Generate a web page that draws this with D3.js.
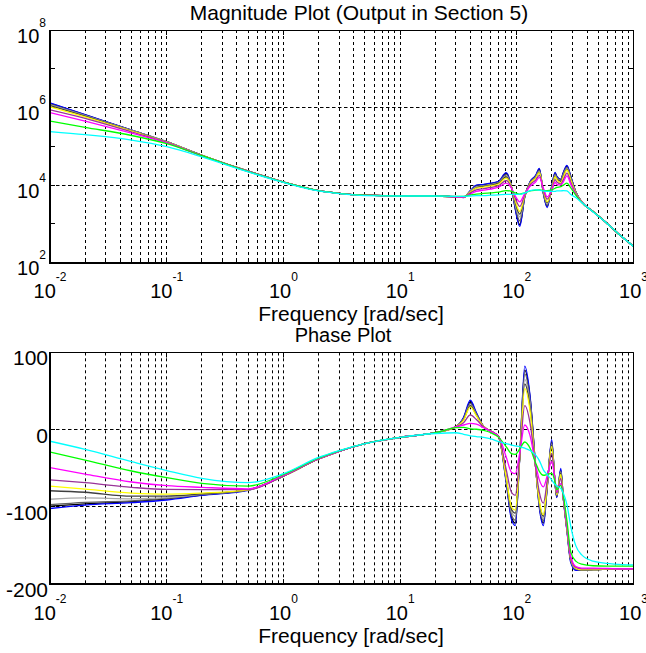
<!DOCTYPE html>
<html>
<head>
<meta charset="utf-8">
<script src="https://cdn.jsdelivr.net/npm/d3@7"></script>
<style>
  body { margin: 0; background: #ffffff; }
  svg { display: block; }
  text { font-family: 'Liberation Sans', Arial, Helvetica, sans-serif; fill: #000000; }
</style>
</head>
<body>
<svg id="chart" width="646" height="653"></svg>
<script>
// frequency points shared by every curve [rad/sec]
const freq = [0.01, 0.02, 0.05, 0.1, 0.2, 0.5, 1, 2, 3, 5, 10, 20, 30, 35, 40, 45, 52, 60, 70, 81,
  90, 97, 106, 117, 130, 145, 156, 169, 182, 199, 213, 220, 238, 250, 269, 290, 320, 360, 450, 600, 800, 1000]

// magnitude, stored as log10 of the value
const magBlack = [6.11, 5.81, 5.42, 5.12, 4.77, 4.36, 4.08, 3.86, 3.79, 3.74, 3.72, 3.72, 3.70, 3.69, 3.85, 3.99, 4.01, 4.04, 4.09, 4.30,
  3.95, 3.40, 2.98, 3.70, 4.08, 4.24, 4.41, 3.79, 3.45, 3.96, 4.31, 4.22, 4.14, 4.31, 4.49, 4.22, 3.83, 3.57, 3.32, 3.00, 2.66, 2.42]
const magBlue = [6.12, 5.82, 5.42, 5.12, 4.77, 4.36, 4.08, 3.86, 3.79, 3.74, 3.72, 3.72, 3.70, 3.68, 3.86, 4.00, 4.02, 4.05, 4.10, 4.32,
  3.96, 3.38, 2.94, 3.70, 4.09, 4.25, 4.43, 3.78, 3.42, 3.97, 4.33, 4.23, 4.15, 4.32, 4.51, 4.23, 3.83, 3.57, 3.32, 3.00, 2.66, 2.42]
const magDim = [6.09, 5.80, 5.41, 5.12, 4.77, 4.36, 4.08, 3.86, 3.79, 3.74, 3.72, 3.72, 3.70, 3.69, 3.84, 3.97, 3.99, 4.02, 4.07, 4.27,
  3.95, 3.45, 3.08, 3.71, 4.07, 4.22, 4.38, 3.81, 3.48, 3.93, 4.28, 4.20, 4.13, 4.28, 4.46, 4.20, 3.82, 3.57, 3.32, 3.00, 2.66, 2.42]
const magGray = [6.07, 5.79, 5.41, 5.12, 4.77, 4.36, 4.08, 3.86, 3.79, 3.74, 3.72, 3.72, 3.70, 3.69, 3.84, 3.95, 3.98, 4.01, 4.06, 4.24,
  3.95, 3.50, 3.18, 3.71, 4.06, 4.20, 4.35, 3.83, 3.52, 3.89, 4.25, 4.18, 4.11, 4.25, 4.43, 4.17, 3.81, 3.57, 3.32, 3.00, 2.66, 2.42]
const magDark = [6.05, 5.78, 5.40, 5.11, 4.77, 4.36, 4.08, 3.86, 3.79, 3.74, 3.72, 3.72, 3.70, 3.69, 3.83, 3.93, 3.97, 4.00, 4.05, 4.21,
  3.95, 3.55, 3.25, 3.72, 4.05, 4.19, 4.33, 3.85, 3.55, 3.87, 4.23, 4.16, 4.10, 4.23, 4.41, 4.16, 3.80, 3.57, 3.32, 3.00, 2.66, 2.42]
const magYellow = [6.02, 5.76, 5.39, 5.11, 4.77, 4.36, 4.08, 3.86, 3.79, 3.74, 3.72, 3.72, 3.70, 3.69, 3.82, 3.92, 3.95, 3.98, 4.03, 4.18,
  3.95, 3.60, 3.32, 3.73, 4.04, 4.18, 4.32, 3.87, 3.57, 3.86, 4.22, 4.14, 4.06, 4.20, 4.39, 4.14, 3.80, 3.57, 3.32, 3.00, 2.66, 2.42]
const magPurple = [5.94, 5.72, 5.37, 5.10, 4.76, 4.36, 4.08, 3.86, 3.79, 3.74, 3.72, 3.72, 3.70, 3.69, 3.80, 3.88, 3.91, 3.94, 3.99, 4.12,
  3.94, 3.66, 3.45, 3.75, 4.01, 4.13, 4.25, 3.89, 3.64, 3.85, 4.14, 4.08, 4.03, 4.13, 4.31, 4.07, 3.78, 3.56, 3.32, 3.00, 2.66, 2.42]
const magMagenta = [5.87, 5.65, 5.34, 5.09, 4.76, 4.35, 4.08, 3.86, 3.79, 3.74, 3.72, 3.72, 3.70, 3.70, 3.77, 3.84, 3.87, 3.90, 3.95, 4.05,
  3.92, 3.72, 3.57, 3.78, 3.97, 4.08, 4.20, 3.92, 3.70, 3.86, 4.07, 4.02, 4.00, 4.08, 4.24, 4.02, 3.76, 3.56, 3.32, 3.00, 2.66, 2.42]
const magGreen = [5.65, 5.49, 5.28, 5.07, 4.76, 4.35, 4.08, 3.86, 3.79, 3.74, 3.72, 3.72, 3.71, 3.71, 3.74, 3.77, 3.79, 3.80, 3.82, 3.86,
  3.84, 3.80, 3.77, 3.80, 3.85, 3.87, 3.88, 3.86, 3.86, 3.88, 3.92, 3.94, 3.96, 4.00, 4.05, 3.93, 3.74, 3.55, 3.32, 3.00, 2.66, 2.42]
const magCyan = [5.38, 5.30, 5.16, 4.99, 4.73, 4.34, 4.07, 3.85, 3.78, 3.73, 3.72, 3.72, 3.71, 3.71, 3.72, 3.73, 3.73, 3.74, 3.75, 3.76,
  3.76, 3.76, 3.76, 3.80, 3.86, 3.88, 3.87, 3.85, 3.84, 3.84, 3.84, 3.85, 3.85, 3.86, 3.85, 3.76, 3.68, 3.55, 3.31, 3.00, 2.66, 2.42]

// phase [deg]
const phaseBlack = [-99, -96, -93, -89.5, -84.5, -78, -60, -38, -28, -18, -10, -4, 3.8, 15, 36, 21, 4, -2, -9, -66,
  -113, -121, -35, 77, 41, -48, -99, -121, -75, -15.6, -70, -87, -52, -87, -130, -170, -181, -182, -181, -180.5, -180, -180]
const phaseBlue = [-102, -97.5, -94.5, -91, -85, -78.5, -60, -38, -28, -18, -10, -4, 3.8, 16, 38, 22, 4, -2, -9, -68,
  -116, -124, -36, 82, 43, -48, -101, -124, -76, -13, -71, -88, -50, -88, -131, -172, -182, -182, -181, -180.5, -180, -180]
const phaseDim = [-97, -94, -92, -89, -84, -78, -60, -38, -28, -18, -10, -4, 3.8, 14, 34, 20, 4, -2, -9, -64,
  -110, -117, -35, 72, 37, -48, -97, -118, -74, -17, -70, -86, -54, -87, -129, -169, -180, -182, -181, -180.5, -180, -180]
const phaseGray = [-90, -88.3, -89.5, -88, -83.5, -78, -60, -38, -28, -18, -10, -4, 3.8, 13.5, 32, 19.5, 4, -2, -9, -63,
  -106, -112, -35, 65, 32, -49, -96, -115, -73, -19, -69, -85, -55, -87, -129, -168, -180, -181, -181, -180.5, -180, -180]
const phaseDark = [-79, -81, -86, -86, -83, -78, -60, -38, -28, -18, -10, -4, 3.8, 13, 31, 19, 4, -2, -9, -62,
  -103, -108, -36, 59, 28, -49, -94, -112, -72, -20, -69, -85, -56, -88, -128, -168, -179, -181, -181, -180.5, -180, -180]
const phaseYellow = [-73, -77, -82, -83.5, -82, -78, -60, -38, -28, -18, -10, -4, 3.6, 12, 29.5, 18, 4, -2, -9, -61,
  -100, -104, -36, 53, 23.6, -50, -92, -110, -71.5, -22, -68, -84, -58, -88, -128, -167, -179, -181, -181, -180.5, -180, -180]
const phasePurple = [-65, -68.6, -74.6, -77.3, -77.5, -77.5, -60, -38, -28, -18, -10, -4, 3.5, 9, 19, 13, 3.5, -2, -9, -51,
  -81, -85, -35, 31, 8, -49, -81, -95, -67, -30.6, -67, -82, -63, -88, -126, -166, -178, -180, -180, -180, -180, -180]
const phaseMagenta = [-49, -57.4, -67.7, -72.5, -74.6, -76.5, -59, -37.5, -28, -18, -10, -4, 3.5, 6, 8, 7, 2.5, -2.5, -9, -35,
  -55, -57, -30, 6, -8, -45, -65, -74, -60, -41.5, -66, -80, -70, -87, -124, -164, -177, -179, -179, -179.5, -180, -180]
const phaseGreen = [-29, -39.3, -53.5, -62, -69.4, -73, -58, -37, -27.5, -18, -10, -4, 2.5, 3, 1, 0.5, -1, -4, -10, -22,
  -31, -32, -25, -16, -24, -43, -54, -59, -58, -56.5, -68, -78, -72, -85, -118, -158, -170, -174, -176, -176.5, -176.5, -176.5]
const phaseCyan = [-15, -25.5, -41.5, -53, -63, -68.6, -57, -36, -27, -18, -10, -5, -4, -6, -8, -9, -10, -12, -15.6, -18,
  -20, -21, -22, -24, -27, -33, -40, -52, -58, -65, -71, -73, -76, -82, -97, -125, -150, -162, -170, -173, -174.5, -175]

// tick labels
const xTickExps = [-2, -1, 0, 1, 2, 3]
const magTickExps = [2, 4, 6, 8]
const magMinorExps = [3, 5, 7]
const phaseTicks = [-200, -100, 0, 100]

// curves in drawing order
const curves = [
  { color: '#000000', mag: magBlack, phase: phaseBlack },
  { color: '#0000ff', mag: magBlue, phase: phaseBlue },
  { color: '#606060', mag: magDim, phase: phaseDim },
  { color: '#a8a8a8', mag: magGray, phase: phaseGray },
  { color: '#404040', mag: magDark, phase: phaseDark },
  { color: '#ffff00', mag: magYellow, phase: phaseYellow },
  { color: '#993399', mag: magPurple, phase: phasePurple },
  { color: '#ff00ff', mag: magMagenta, phase: phaseMagenta },
  { color: '#00ff00', mag: magGreen, phase: phaseGreen },
  { color: '#00ffff', mag: magCyan, phase: phaseCyan }
]

var svg = d3.select('#chart')
var left = 50
var right = 633.5

var x = d3.scaleLog().domain([0.01, 1000]).range([left, right])
var yMag = d3.scaleLog().domain([1e2, 1e8]).range([262.7, 30])
var yPhase = d3.scaleLinear().domain([-200, 100]).range([584.3, 352.3])

// put a 1px line on a pixel centre so the dashes stay black
function crisp (v) {
  return Math.round(v - 0.5) + 0.5
}

/**
 * Draws the dashed grid and the ticks of one panel
 *
 * @param {*} g the d3 group of the panel
 * @param {*} y the y scale
 * @param {number[]} gridValues the y values that get a grid line
 * @param {number[]} minorValues the y values that only get a small tick
 * @param {string} id the clip id
 */
function drawFrame (g, y, gridValues, minorValues, id) {
  var top = y.range()[1]
  var bottom = y.range()[0]

  g.append('clipPath')
    .attr('id', id)
    .append('rect')
    .attr('x', left)
    .attr('y', top)
    .attr('width', right - left)
    .attr('height', bottom - top)

  var xGrid = x.ticks().filter(function (d) { return d > 0.0101 && d < 999 })
  g.selectAll('.vgrid')
    .data(xGrid).enter()
    .append('line')
    .attr('x1', function (d) { return crisp(x(d)) })
    .attr('x2', function (d) { return crisp(x(d)) })
    .attr('y1', top)
    .attr('y2', bottom)
    .attr('stroke', '#000000')
    .attr('stroke-width', 1)
    .attr('stroke-dasharray', '3,3')

  g.selectAll('.hgrid')
    .data(gridValues).enter()
    .append('line')
    .attr('x1', left)
    .attr('x2', right)
    .attr('y1', function (d) { return crisp(y(d)) })
    .attr('y2', function (d) { return crisp(y(d)) })
    .attr('stroke', '#000000')
    .attr('stroke-width', 1)
    .attr('stroke-dasharray', '3.5,2.5')

  // x ticks at bottom and top
  var xMajor = xTickExps.map(function (e) { return Math.pow(10, e) })
  xGrid.concat(xMajor).forEach(function (d) {
    var len = xMajor.indexOf(d) >= 0 ? 5 : 3
    var px = crisp(x(d))
    g.append('line').attr('x1', px).attr('x2', px).attr('y1', bottom).attr('y2', bottom - len)
      .attr('stroke', '#000000')
    g.append('line').attr('x1', px).attr('x2', px).attr('y1', top).attr('y2', top + len)
      .attr('stroke', '#000000')
  })

  // y ticks on both sides
  gridValues.concat(minorValues).forEach(function (d) {
    var py = crisp(y(d))
    g.append('line').attr('x1', left).attr('x2', left + 5).attr('y1', py).attr('y2', py)
      .attr('stroke', '#000000')
    g.append('line').attr('x1', right).attr('x2', right - 5).attr('y1', py).attr('y2', py)
      .attr('stroke', '#000000')
  })
}

/**
 * Draws the box lines on top of the curves
 *
 * @param {*} g the d3 group of the panel
 * @param {*} y the y scale
 */
function drawBox (g, y) {
  var top = crisp(y.range()[1])
  var bottom = Math.round(y.range()[0])
  g.append('line').attr('x1', left).attr('x2', right).attr('y1', top).attr('y2', top)
    .attr('stroke', '#000000').attr('stroke-width', 1)
  g.append('line').attr('x1', right).attr('x2', right).attr('y1', top).attr('y2', bottom)
    .attr('stroke', '#000000').attr('stroke-width', 1)
  g.append('line').attr('x1', left).attr('x2', right + 0.5).attr('y1', bottom).attr('y2', bottom)
    .attr('stroke', '#000000').attr('stroke-width', 2)
  g.append('line').attr('x1', left).attr('x2', left).attr('y1', top - 0.5).attr('y2', bottom + 1)
    .attr('stroke', '#000000').attr('stroke-width', 2)
}

/**
 * Draws the curves of one panel
 *
 * @param {*} g the d3 group of the panel
 * @param {*} y the y scale
 * @param {Function} value returns the y value of a curve at index i
 * @param {string} id the clip id
 */
function drawCurves (g, y, value, id) {
  var line = d3.line()
    .x(function (d) { return x(d[0]) })
    .y(function (d) { return y(d[1]) })
    .curve(d3.curveMonotoneX)

  curves.forEach(function (c) {
    var points = freq.map(function (f, i) { return [f, value(c, i)] })
    g.append('path')
      .datum(points)
      .attr('d', line)
      .attr('fill', 'none')
      .attr('stroke', c.color)
      .attr('stroke-width', 1.3)
      .attr('clip-path', 'url(#' + id + ')')
  })
}

/**
 * Writes the x tick labels and the x axis label
 *
 * @param {*} g the d3 group of the panel
 * @param {number} bottom the pixel of the bottom axis
 */
function drawXLabels (g, bottom) {
  xTickExps.forEach(function (e) {
    var t = g.append('text')
      .attr('x', x(Math.pow(10, e)))
      .attr('y', bottom + 35.5)
      .attr('text-anchor', 'middle')
      .attr('font-size', 20)
    t.append('tspan').text('10')
    t.append('tspan').attr('dy', -17).attr('font-size', 12).text(e)
  })
  g.append('text')
    .attr('x', 351)
    .attr('y', bottom + 58.5)
    .attr('text-anchor', 'middle')
    .attr('font-size', 21)
    .text('Frequency [rad/sec]')
}

var magPanel = svg.append('g')
drawFrame(magPanel, yMag, [1e4, 1e6], magMinorExps.map(function (e) { return Math.pow(10, e) }), 'clipMag')
drawCurves(magPanel, yMag, function (c, i) { return Math.pow(10, c.mag[i]) }, 'clipMag')
drawBox(magPanel, yMag)

magTickExps.forEach(function (e) {
  var t = magPanel.append('text')
    .attr('x', 46)
    .attr('y', yMag(Math.pow(10, e)) + 12.5)
    .attr('text-anchor', 'end')
    .attr('font-size', 20)
  t.append('tspan').text('10')
  t.append('tspan').attr('dy', -16).attr('font-size', 12).text(e)
})
drawXLabels(magPanel, 262.7)
magPanel.append('text')
  .attr('x', 359)
  .attr('y', 20)
  .attr('text-anchor', 'middle')
  .attr('font-size', 21)
  .text('Magnitude Plot (Output in Section 5)')

var phasePanel = svg.append('g')
drawFrame(phasePanel, yPhase, [-100, 0], [], 'clipPhase')
drawCurves(phasePanel, yPhase, function (c, i) { return c.phase[i] }, 'clipPhase')
drawBox(phasePanel, yPhase)

phaseTicks.forEach(function (v) {
  phasePanel.append('text')
    .attr('x', 48)
    .attr('y', yPhase(v) + 13)
    .attr('text-anchor', 'end')
    .attr('font-size', 21)
    .text(v)
})
drawXLabels(phasePanel, 584.3)
phasePanel.append('text')
  .attr('x', 343)
  .attr('y', 342)
  .attr('text-anchor', 'middle')
  .attr('font-size', 20)
  .text('Phase Plot')
</script>
</body>
</html>
